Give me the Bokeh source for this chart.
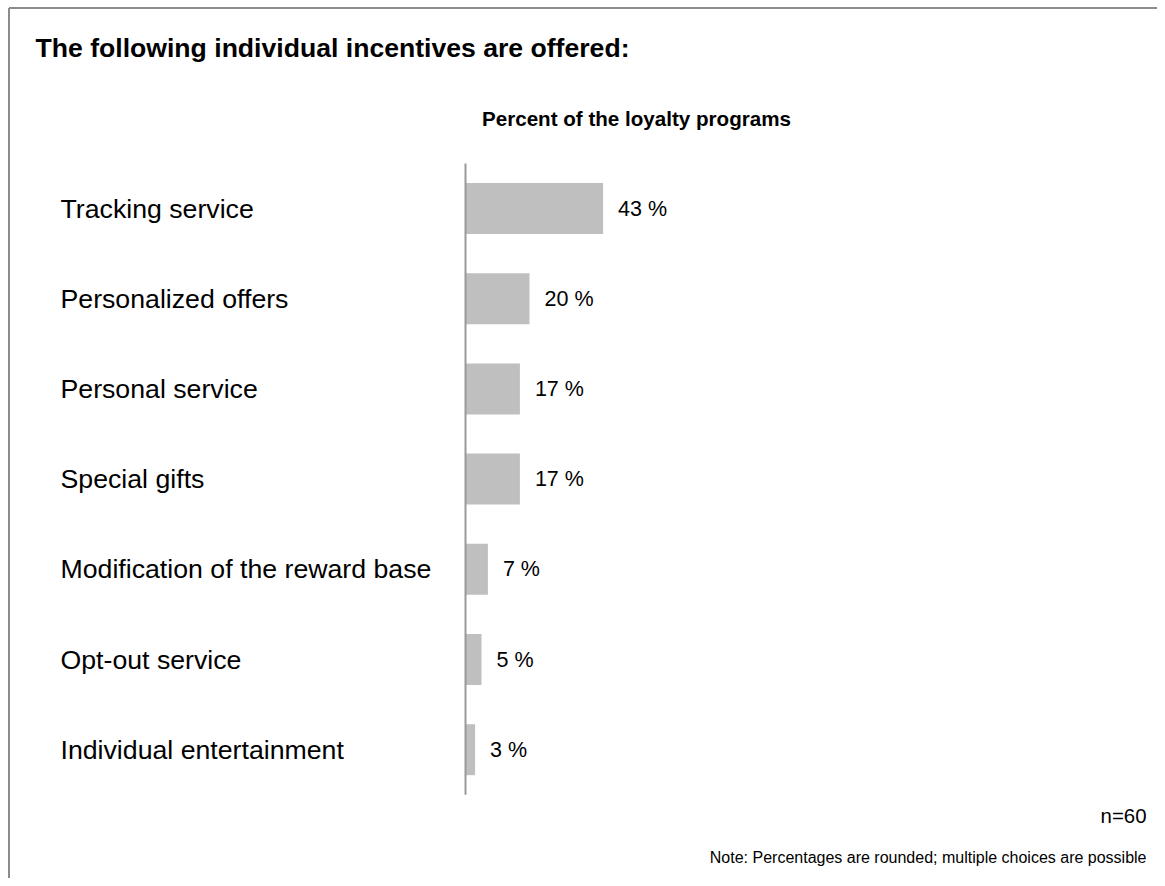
from bokeh.plotting import figure
from bokeh.models import Range1d, Label
from bokeh.core.properties import value
from bokeh.embed import file_html
from bokeh.resources import INLINE

# ---- data ----
categories = ["Tracking service", "Personalized offers", "Personal service", "Special gifts",
              "Modification of the reward base", "Opt-out service", "Individual entertainment"]
percents = [43, 20, 17, 17, 7, 5, 3]
value_labels = [f"{v} %" for v in percents]
title_text = "The following individual incentives are offered:"
subtitle_text = "Percent of the loyalty programs"
n_text = "n=60"
note_text = "Note: Percentages are rounded; multiple choices are possible"

# ---- layout ----
W, H = 1157, 878
PX_PER_PCT = 3.2        # horizontal scale
AXIS_X = 465            # canvas x of the zero line
ROW0_Y = 208            # canvas y of first row centre
ROW_STEP = 90.2         # px between rows
FONT = "Liberation Sans"
BORDER_X, BORDER_Y = 8.5, 7.5

x_start = -AXIS_X / PX_PER_PCT
x_end = (W - AXIS_X) / PX_PER_PCT
y_top = -ROW0_Y / ROW_STEP
y_bot = (H - ROW0_Y) / ROW_STEP

p = figure(width=W, height=H, output_backend="svg", toolbar_location=None,
           x_range=Range1d(x_start, x_end), y_range=Range1d(y_bot, y_top),
           min_border=0, min_border_left=0, min_border_right=0,
           min_border_top=0, min_border_bottom=0)
p.axis.visible = False
p.grid.visible = False
p.outline_line_color = None
p.background_fill_color = "white"
p.border_fill_color = "white"

idx = list(range(len(categories)))

# frame border (top & left)
border_col = "#8c8c8c"
bx = x_start + BORDER_X / PX_PER_PCT
by = y_top + BORDER_Y / ROW_STEP
p.segment(x0=[bx], y0=[by], x1=[x_end], y1=[by], line_color=border_col, line_width=2)
p.segment(x0=[bx], y0=[by], x1=[bx], y1=[y_bot], line_color=border_col, line_width=2)

# bars
p.hbar(y=idx, left=0, right=percents, height=0.565, fill_color="#bfbfbf", line_color=None)

# value axis line
p.segment(x0=[0], y0=[-0.5], x1=[0], y1=[len(categories) - 0.5],
          line_color="#999999", line_width=2)

# category labels (left aligned)
p.text(x=[x_start] * len(categories), y=idx, text=categories, x_offset=60,
       text_align="left", text_baseline="middle", text_font=value(FONT),
       text_font_size="26.7px", text_color="black")

# value labels
p.text(x=percents, y=idx, text=value_labels, x_offset=15,
       text_align="left", text_baseline="middle", text_font=value(FONT),
       text_font_size="21.5px", text_color="black")

# titles & notes
p.add_layout(Label(x=35, y=H - 47, x_units="screen", y_units="screen", text=title_text,
                   text_font=FONT, text_font_size="26.6px", text_font_style="bold",
                   text_baseline="middle", text_align="left", text_color="black"))
p.add_layout(Label(x=636, y=H - 118, x_units="screen", y_units="screen", text=subtitle_text,
                   text_font=FONT, text_font_size="20.6px", text_font_style="bold",
                   text_baseline="middle", text_align="center", text_color="black"))
p.add_layout(Label(x=1146, y=H - 815, x_units="screen", y_units="screen", text=n_text,
                   text_font=FONT, text_font_size="20.4px",
                   text_baseline="middle", text_align="right", text_color="black"))
p.add_layout(Label(x=1146, y=H - 857, x_units="screen", y_units="screen", text=note_text,
                   text_font=FONT, text_font_size="16px",
                   text_baseline="middle", text_align="right", text_color="black"))

open("out.html", "w").write(file_html(p, INLINE))
